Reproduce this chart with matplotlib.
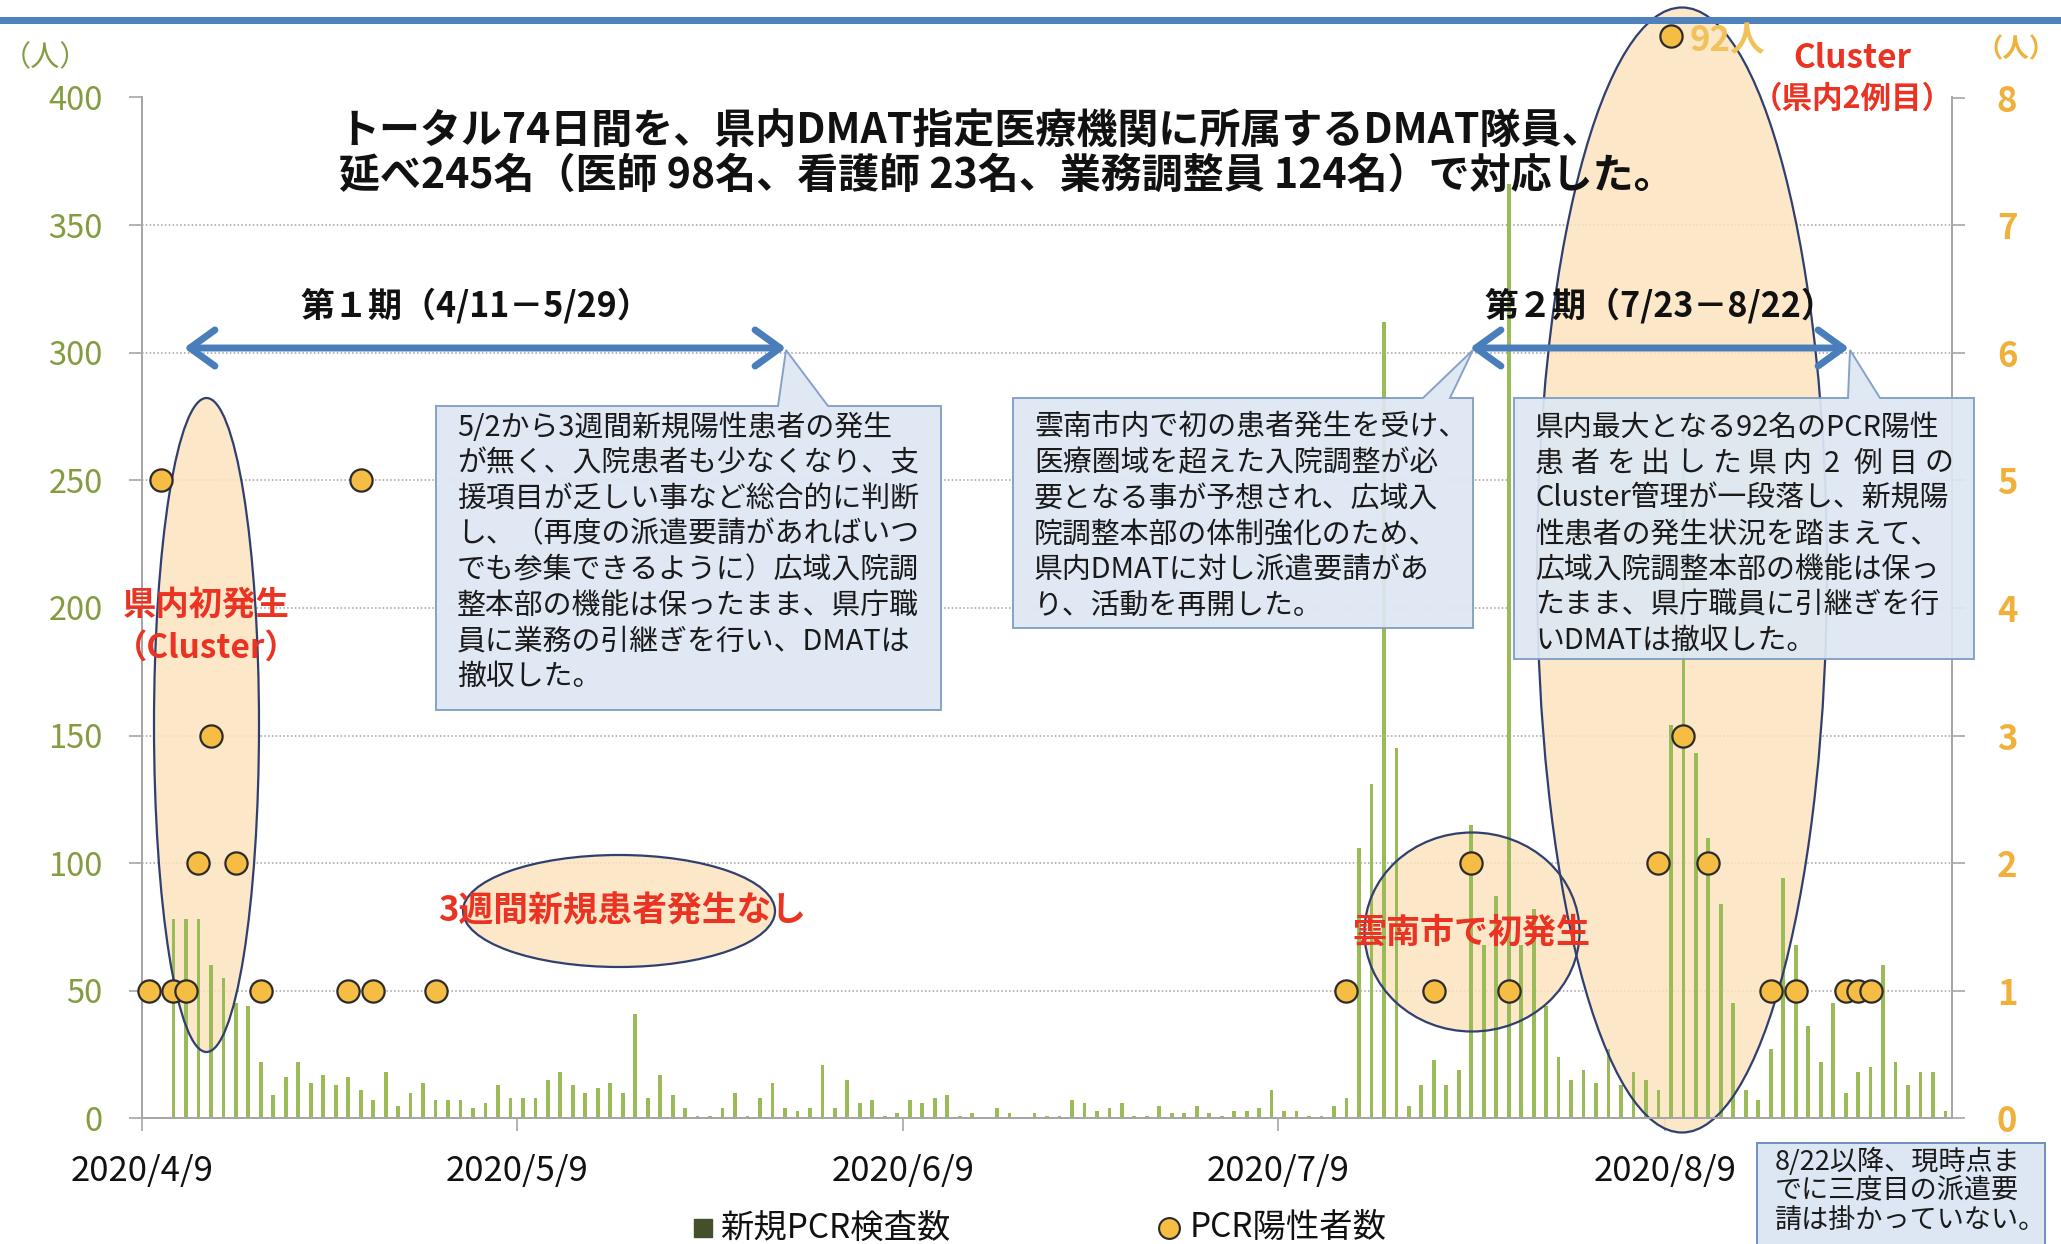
import datetime as dt
import numpy as np
import matplotlib
matplotlib.use('Agg')
from matplotlib import pyplot as plt
import matplotlib.dates as mdates
from matplotlib.patches import Ellipse, Polygon, Rectangle, FancyArrowPatch
from matplotlib.lines import Line2D

plt.rcParams['font.family'] = ['Noto Sans CJK JP', 'DejaVu Sans']

# ---- data -------------------------------------------------------------
FIRST_DAY = dt.date(2020, 4, 9)
LAST_DAY = dt.date(2020, 8, 31)

# daily new PCR tests (left axis)
tests_apr = [0, 0, 78, 78, 78, 60, 55, 45, 44, 22, 9, 16, 22, 14, 17, 13, 16, 11,
             7, 18, 5, 10]                                        # 4/9-4/30
tests_may = [14, 7, 7, 7, 4, 6, 13, 8, 8, 8, 15, 18, 13, 10, 12, 14, 10, 41, 8,
             17, 9, 4, 1, 1, 4, 10, 1, 8, 14, 4, 3]               # 5/1-5/31
tests_jun = [4, 21, 4, 15, 6, 7, 1, 2, 7, 6, 8, 9, 1, 2, 0, 4, 2, 0, 2, 1, 1, 7,
             6, 3, 4, 6, 1, 1, 5, 2]                              # 6/1-6/30
tests_jul = [2, 5, 2, 1, 3, 3, 4, 11, 3, 3, 1, 1, 5, 8, 106, 131, 312, 145, 5,
             13, 23, 13, 19, 115, 68, 87, 366, 68, 82, 44, 24]    # 7/1-7/31
tests_aug = [15, 19, 14, 27, 13, 18, 15, 11, 154, 270, 143, 110, 84, 45, 11, 7,
             27, 94, 68, 36, 22, 45, 10, 18, 20, 60, 22, 13, 18, 18, 3]  # 8/1-8/31
pcr_tests = tests_apr + tests_may + tests_jun + tests_jul + tests_aug

# PCR positives (right axis)
pos_dates = ['4/9', '4/10', '4/11', '4/12', '4/13', '4/14', '4/16', '4/18', '4/25',
             '4/26', '4/27', '5/2', '7/14', '7/21', '7/24', '7/27', '8/8', '8/9',
             '8/10', '8/12', '8/17', '8/19', '8/23', '8/24', '8/25']
pos_counts = [1, 5, 1, 1, 2, 3, 2, 1, 1, 5, 1, 1, 1, 1, 2, 1, 2, 92, 3, 2, 1, 1,
              1, 1, 1]

tick_dates = ['2020/4/9', '2020/5/9', '2020/6/9', '2020/7/9', '2020/8/9']
left_ticks = list(range(0, 401, 50))
right_ticks = list(range(0, 9))

# ---- colours ----------------------------------------------------------
GREEN = '#9BBB59'
GOLD = '#F5BD43'
RED = '#EA3323'
BLUE = '#4A7EBB'
OLIVE = '#839C3F'
AXIS = '#A6A6A6'
PEACH = '#FCE4BF'
NAVY = '#2F3F70'

W, H = 2061, 1244


def fx(x):
    return x / W


def fy(y):
    return 1 - y / H


fig = plt.figure(figsize=(W / 100, H / 100), dpi=100)
ax = fig.add_axes([fx(142.3), fy(1118.3), (1951.7 - 142.3) / W, (1118.3 - 97.5) / H])
ax2 = ax.twinx()

days = [FIRST_DAY + dt.timedelta(days=i) for i in range(len(pcr_tests))]
x_bar = mdates.date2num(days) + 0.5
ax.bar(x_bar, pcr_tests, width=0.3, color=GREEN, zorder=2)

pos_x = mdates.date2num([dt.date(2020, int(s.split('/')[0]), int(s.split('/')[1]))
                         for s in pos_dates]) + 0.5
pos_counts = np.array(pos_counts, dtype=float)
shown = np.where(pos_counts > 8, 8.48, pos_counts)   # off-scale value drawn above top
ax2.plot(pos_x, shown, 'o', ls='none', ms=16, mfc=GOLD, mec='#2b2b2b', mew=1.6,
         clip_on=False, zorder=5)

# axes setup
ax.set_xlim(mdates.date2num(FIRST_DAY), mdates.date2num(LAST_DAY) + 1)
ax.set_ylim(0, 400)
ax2.set_ylim(0, 8)
ax.set_xticks(mdates.date2num([dt.datetime.strptime(t, '%Y/%m/%d') for t in tick_dates]))
ax.set_xticklabels(tick_dates)
ax.set_yticks(left_ticks)
ax2.set_yticks(right_ticks)
ax.set_axisbelow(True)
ax.yaxis.grid(True, linestyle=(0, (1, 1.5)), color='#A0A0A0', lw=1.1)

for s in ['top']:
    ax.spines[s].set_visible(False)
    ax2.spines[s].set_visible(False)
for a in (ax, ax2):
    for s in ['left', 'right', 'bottom']:
        a.spines[s].set_color(AXIS)
        a.spines[s].set_linewidth(1.4)
ax2.patch.set_visible(False)

ax.tick_params(axis='y', direction='out', length=9.5, width=1.2, color=AXIS, pad=19,
               labelsize=23.5, labelcolor=OLIVE)
ax.tick_params(axis='x', direction='out', length=9.5, width=1.2, color=AXIS, pad=16,
               labelsize=25, labelcolor='#111111')
ax2.tick_params(axis='y', direction='out', length=9.5, width=1.2, color=AXIS, pad=23,
                labelsize=25, labelcolor='#F0B13A')
for lbl in ax2.get_yticklabels():
    lbl.set_fontweight('bold')

# ellipses (fill behind bars, outline above)
ellipses = [((206.5, 725), 105, 654), ((619, 911), 312, 112),
            ((1472, 932), 215, 199), ((1682, 570), 290, 1125)]
for (cx, cy), ew, eh in ellipses:
    ax.add_patch(Ellipse((fx(cx), fy(cy)), ew / W, eh / H, transform=fig.transFigure,
                         facecolor=PEACH, edgecolor='none', alpha=0.85, zorder=1,
                         clip_on=False))
    ax.add_patch(Ellipse((fx(cx), fy(cy)), ew / W, eh / H, transform=fig.transFigure,
                         facecolor='none', edgecolor=NAVY, lw=1.6, zorder=3,
                         clip_on=False))

# header line
fig.patches.append(Rectangle((0, fy(24)), 1, 7 / H, transform=fig.transFigure,
                             facecolor='#4F81BD', edgecolor='none', zorder=0))

# title
fig.text(fx(339), fy(131), 'トータル74日間を、県内DMAT指定医療機関に所属するDMAT隊員、',
         fontsize=29.5, fontweight='bold', va='center', ha='left', color='#111111')
fig.text(fx(339), fy(176), '延べ245名（医師 98名、看護師 23名、業務調整員 124名）で対応した。',
         fontsize=29.5, fontweight='bold', va='center', ha='left', color='#111111')

# period arrows
for (x0, x1), label, lx in [((184, 786), '第１期（4/11－5/29）', 476),
                            ((1470, 1849), '第２期（7/23－8/22）', 1660)]:
    fig.patches.append(FancyArrowPatch((fx(x0), fy(348)), (fx(x1), fy(348)),
                                       transform=fig.transFigure,
                                       arrowstyle='<->,head_length=0.9,head_width=0.65',
                                       mutation_scale=20, lw=5, color=BLUE,
                                       shrinkA=0, shrinkB=0, zorder=4))
    fig.text(fx(lx), fy(306), label, fontsize=24.5, fontweight='bold',
             ha='center', va='center', color='#111111')


def callout(x0, y0, x1, y1, b0, b1, tip, lines, justify=()):
    verts = [(x0, y0), (b0, y0), tip, (b1, y0), (x1, y0), (x1, y1), (x0, y1)]
    fig.patches.append(Polygon([(fx(a), fy(b)) for a, b in verts], closed=True,
                               transform=fig.transFigure, facecolor='#DDE7F3',
                               edgecolor='#7F9CC4', lw=1.4, alpha=0.93, zorder=5))
    tx = x0 + 21
    for i, line in enumerate(lines):
        y = 428 + i * 35.5
        if i in justify:
            chars = list(line)
            step = (x1 - 21 - tx - 29) / (len(chars) - 1)
            for j, ch in enumerate(chars):
                fig.text(fx(tx + 14.5 + j * step), fy(y), ch, fontsize=20.8,
                         ha='center', va='center', color='#1a1a1a', zorder=6)
        else:
            fig.text(fx(tx), fy(y), line, fontsize=20.8, ha='left', va='center',
                     color='#1a1a1a', zorder=6)


callout(436, 406, 941, 710, 778, 828, (786, 350),
        ['5/2から3週間新規陽性患者の発生',
         'が無く、入院患者も少なくなり、支',
         '援項目が乏しい事など総合的に判断',
         'し、（再度の派遣要請があればいつ',
         'でも参集できるように）広域入院調',
         '整本部の機能は保ったまま、県庁職',
         '員に業務の引継ぎを行い、DMATは',
         '撤収した。'])
callout(1013, 398, 1473, 628, 1423, 1450, (1473, 350),
        ['雲南市内で初の患者発生を受け、',
         '医療圏域を超えた入院調整が必',
         '要となる事が予想され、広域入',
         '院調整本部の体制強化のため、',
         '県内DMATに対し派遣要請があ',
         'り、活動を再開した。'])
callout(1514, 398, 1974, 659, 1848, 1880, (1850, 350),
        ['県内最大となる92名のPCR陽性',
         '患者を出した県内2例目の',
         'Cluster管理が一段落し、新規陽',
         '性患者の発生状況を踏まえて、',
         '広域入院調整本部の機能は保っ',
         'たまま、県庁職員に引継ぎを行',
         'いDMATは撤収した。'], justify=(1,))

# red labels
fig.text(fx(206), fy(605), '県内初発生', fontsize=24, fontweight='bold', color=RED,
         ha='center', va='center')
fig.text(fx(206), fy(648), '（Cluster）', fontsize=24, fontweight='bold', color=RED,
         ha='center', va='center')
fig.text(fx(622), fy(911), '3週間新規患者発生なし', fontsize=25, fontweight='bold',
         color=RED, ha='center', va='center')
fig.text(fx(1471), fy(932), '雲南市で初発生', fontsize=24.5, fontweight='bold',
         color=RED, ha='center', va='center')
fig.text(fx(1852), fy(58), 'Cluster', fontsize=24, fontweight='bold', color=RED,
         ha='center', va='center')
fig.text(fx(1852), fy(99), '（県内2例目）', fontsize=22, fontweight='bold', color=RED,
         ha='center', va='center')
fig.text(fx(1690), fy(41), '92人', fontsize=25, fontweight='bold', color='#F2C25A',
         ha='left', va='center')

# unit labels
fig.text(fx(45), fy(58), '（人）', fontsize=21, color=OLIVE, ha='center', va='center')
fig.text(fx(2056), fy(50), '（人）', fontsize=19, fontweight='bold', color='#F0B13A',
         ha='right', va='center')

# legend
fig.add_artist(Line2D([fx(703)], [fy(1228)], marker='s', ms=13, color='#44502C',
                      transform=fig.transFigure))
fig.text(fx(720), fy(1228), '新規PCR検査数', fontsize=24, ha='left', va='center',
         color='#111111')
fig.add_artist(Line2D([fx(1169)], [fy(1228)], marker='o', ms=15, mfc=GOLD, mec='#2b2b2b',
                      mew=1.5, transform=fig.transFigure))
fig.text(fx(1190), fy(1228), 'PCR陽性者数', fontsize=24, ha='left', va='center',
         color='#111111')

# bottom-right note
fig.patches.append(Rectangle((fx(1757), fy(1260)), (2045 - 1757) / W, (1260 - 1143) / H,
                             transform=fig.transFigure, facecolor='#DDE7F3',
                             edgecolor='#6F8FBF', lw=1.4, zorder=5))
for i, line in enumerate(['8/22以降、現時点ま', 'でに三度目の派遣要', '請は掛かっていない。']):
    fig.text(fx(1775), fy(1162 + i * 29), line, fontsize=19.5, ha='left', va='center',
             color='#1a1a1a', zorder=6)

fig.savefig('out.png', dpi=100)
